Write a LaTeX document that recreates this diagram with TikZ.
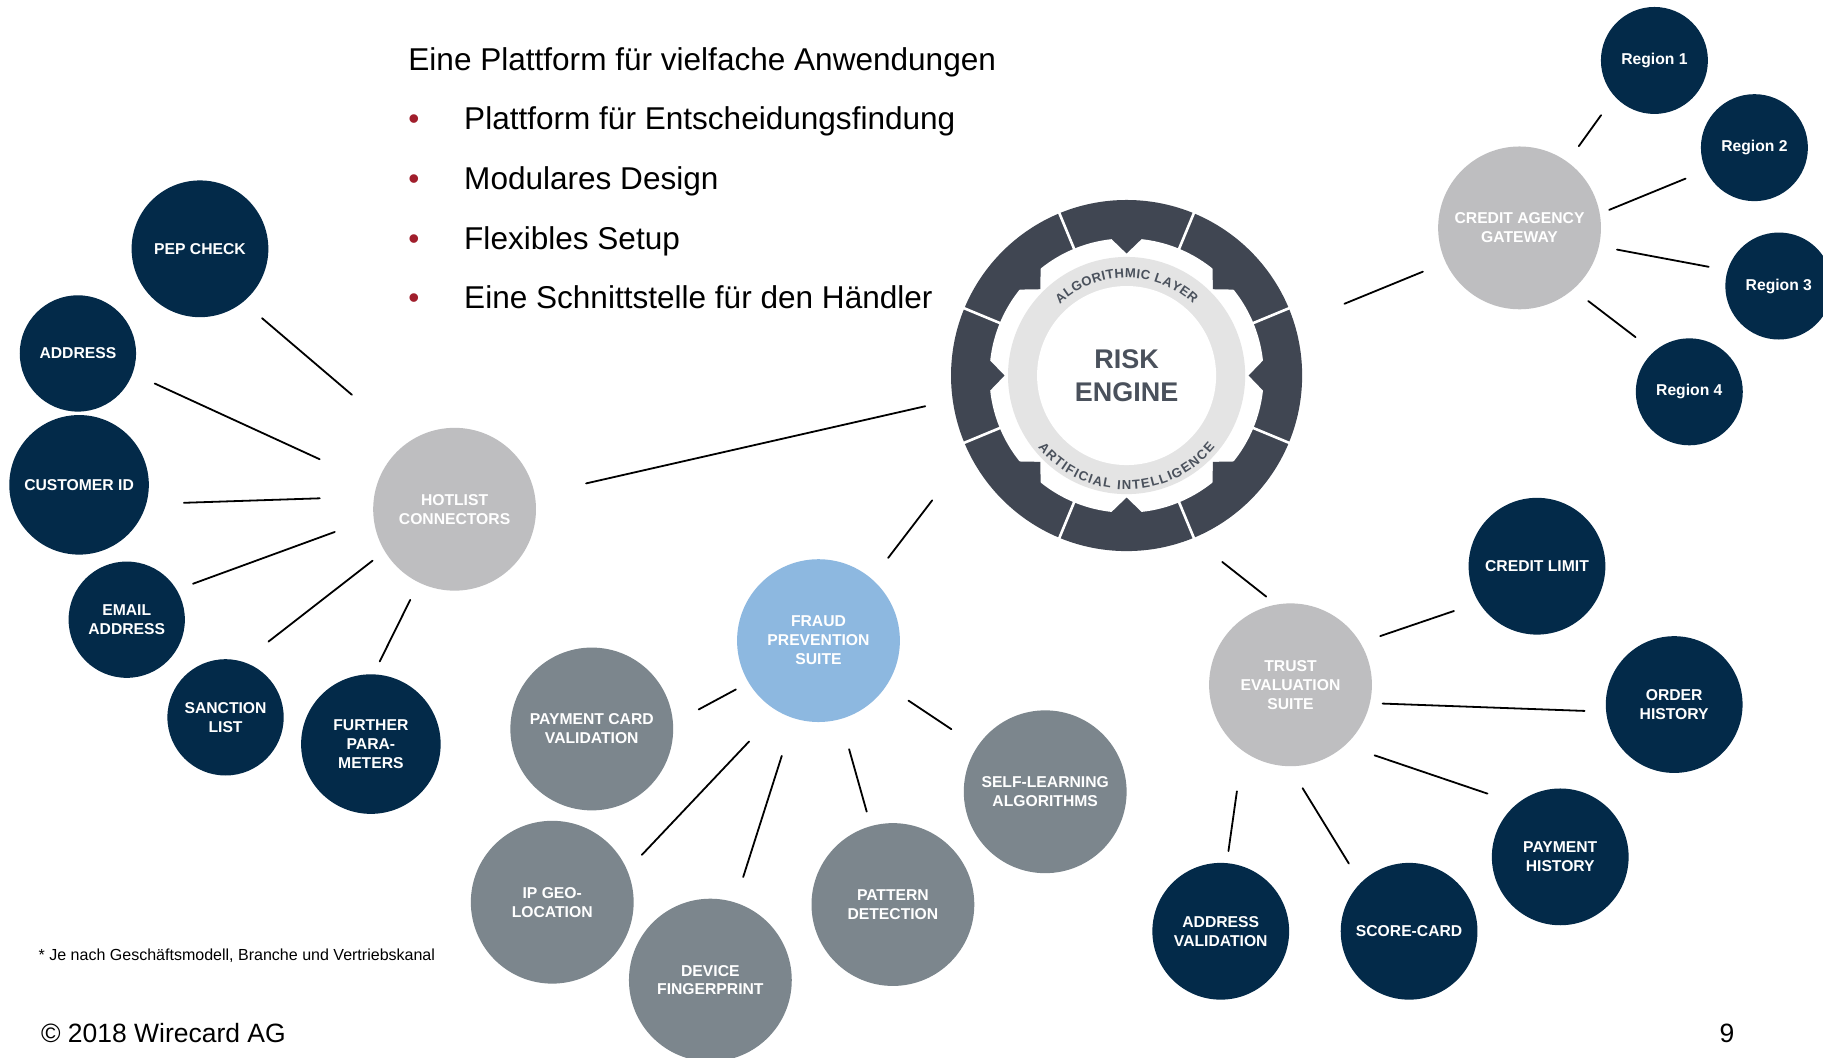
\documentclass[tikz,border=0pt]{standalone}
\usepackage{fontspec}
\setmainfont{Liberation Sans}
\usetikzlibrary{decorations.text}

\definecolor{navy}{HTML}{032A49}
\definecolor{slate}{HTML}{7C868D}
\definecolor{hubgrey}{HTML}{BEBEC0}
\definecolor{fraudblue}{HTML}{8DB8E0}
\definecolor{ringdark}{HTML}{404652}
\definecolor{bandgrey}{HTML}{E4E4E4}
\definecolor{enginetext}{HTML}{4A515C}
\definecolor{bulletred}{HTML}{A01E2C}

\begin{document}
\begin{tikzpicture}[
		x=0.025cm, y=0.025cm,
		line cap=round
	]
	\tikzset{
		navynode/.style = {circle, fill=navy, text=white, align=center, inner sep=0pt, outer sep=0pt,
			font=\fontsize{9.6}{11.6}\selectfont\bfseries},
		greynode/.style = {navynode, fill=slate, minimum size=3.5cm},
		hubnode/.style = {navynode, fill=hubgrey, minimum size=3.5cm},
		fraudnode/.style = {navynode, fill=fraudblue, minimum size=3.5cm},
		smallc/.style = {minimum size=2.5cm},
		midc/.style = {minimum size=2.94cm},
		bigc/.style = {minimum size=3cm},
		regc/.style = {minimum size=2.3cm},
		link/.style = {-, line width=1.1pt, black},
		trim/.style 2 args = {shorten <=#1*0.7113pt, shorten >=#2*0.7113pt},
		bodytext/.style = {anchor=base west, inner sep=0pt, font=\fontsize{19.3}{23}\selectfont},
		ringtext/.style = {decorate, decoration={text along path, text align=fit to path,
			text={|\fontsize{8}{8}\selectfont\bfseries\color{enginetext}|#1}}},
	}
	\useasboundingbox (0,0) rectangle (1568,-910);
	\clip (0,0) rectangle (1568,-910);
	\fill[white] (0,0) rectangle (1568,-910);
	%
	\node[bodytext] (head) at (351,-61) {Eine Plattform für vielfache Anwendungen};
	\node[bodytext] (pt1) at (399,-111) {Plattform für Entscheidungsfindung};
	\node[bodytext] (pt2) at (399,-163) {Modulares Design};
	\node[bodytext] (pt3) at (399,-215) {Flexibles Setup};
	\node[bodytext] (pt4) at (399,-265) {Eine Schnittstelle für den Händler};
	\foreach \n/\y in {1/111,2/163,3/215,4/265}
		\node[bodytext, text=bulletred] (dot\n) at (351,-\y) {•};
	%
	% risk engine
	\begin{scope}[shift={(969,-323)}]
		\fill[ringdark] (0,0) circle[radius=151];
		\fill[white] (0,0) circle[radius=118];
		\foreach \a in {0,45,...,315}
			\fill[ringdark] ({\a-7}:120) -- (\a:105) -- ({\a+7}:120) -- (\a:122) -- cycle;
		\foreach \a in {22.5,67.5,...,337.5}
			\draw[white, line width=1.6pt] (\a:116) -- (\a:153);
		\fill[bandgrey] (0,0) circle[radius=102];
		\fill[white] (0,0) circle[radius=77];
		\path[ringtext={ALGORITHMIC LAYER}] (133:84) arc[start angle=133, end angle=47, radius=84];
		\path[ringtext={ARTIFICIAL INTELLIGENCE}] (219:98) arc[start angle=219, end angle=321, radius=98];
	\end{scope}
	\node[circle, minimum size=7.55cm, inner sep=0pt, outer sep=0pt, align=center, text=enginetext,
		font=\fontsize{16.5}{19.9}\selectfont\bfseries] (risk) at (969,-323) {RISK\\ENGINE};
	%
	% hotlist connectors
	\node[navynode, midc] (pep) at (172,-214) {PEP CHECK};
	\node[navynode, smallc] (addr) at (67,-304) {ADDRESS};
	\node[navynode, bigc] (custid) at (68,-417) {CUSTOMER ID};
	\node[navynode, smallc] (email) at (109,-533) {EMAIL\\ADDRESS};
	\node[navynode, smallc] (sanction) at (194,-617) {SANCTION\\LIST};
	\node[navynode, bigc] (further) at (319,-640) {FURTHER\\PARA-\\METERS};
	\node[hubnode] (hotlist) at (391,-438) {HOTLIST\\CONNECTORS};
	%
	% fraud prevention suite
	\node[fraudnode] (fraud) at (704,-551) {FRAUD\\PREVENTION\\SUITE};
	\node[greynode] (pcv) at (509,-627) {PAYMENT CARD\\VALIDATION};
	\node[greynode] (ipgeo) at (475,-776) {IP GEO-\\LOCATION};
	\node[greynode] (device) at (611,-843) {DEVICE\\FINGERPRINT};
	\node[greynode] (pattern) at (768,-778) {PATTERN\\DETECTION};
	\node[greynode] (selflearn) at (899,-681) {SELF-LEARNING\\ALGORITHMS};
	%
	% trust evaluation suite
	\node[hubnode] (trust) at (1110,-589) {TRUST\\EVALUATION\\SUITE};
	\node[navynode, midc] (climit) at (1322,-487) {CREDIT LIMIT};
	\node[navynode, midc] (order) at (1440,-606) {ORDER\\HISTORY};
	\node[navynode, midc] (payhist) at (1342,-737) {PAYMENT\\HISTORY};
	\node[navynode, midc] (score) at (1212,-801) {SCORE-CARD};
	\node[navynode, midc] (addrval) at (1050,-801) {ADDRESS\\VALIDATION};
	%
	% credit agency gateway
	\node[hubnode] (gateway) at (1307,-196) {CREDIT AGENCY\\GATEWAY};
	\node[navynode, regc] (reg1) at (1423,-52) {Region 1};
	\node[navynode, regc] (reg2) at (1509,-127) {Region 2};
	\node[navynode, regc] (reg3) at (1530,-246) {Region 3};
	\node[navynode, regc] (reg4) at (1453,-337) {Region 4};
	%
	\draw[link, trim={21.5}{63.3}] (pep.-51.4) -- (hotlist.125.8);
	\draw[link, trim={21}{54}] (addr.-20.2) -- (hotlist.163);
	\draw[link, trim={32.5}{46.8}] (custid.-16.6) -- (hotlist.171.3);
	\draw[link, trim={15.1}{35.6}] (email.31.2) -- (hotlist.186.5);
	\draw[link, trim={28.2}{13.3}] (sanction.73) -- (hotlist.211.8);
	\draw[link, trim={12.4}{16.8}] (further.88.7) -- (hotlist.244.3);
	%
	\draw[link, trim={45.3}{24.2}] (hotlist.10.8) -- (risk.188.3);
	\draw[link, trim={23}{51.8}] (fraud.49) -- (risk.206.4);
	\draw[link, trim={11.1}{32.7}] (trust.100.3) -- (risk.292.9);
	\draw[link, trim={21.3}{46.4}] (gateway.205.7) -- (risk.17.9);
	%
	\draw[link, trim={16.8}{20}] (gateway.54.4) -- (reg1.222.4);
	\draw[link, trim={8.8}{18.9}] (gateway.10.5) -- (reg2.205.9);
	\draw[link, trim={15.9}{16.6}] (gateway.-13.8) -- (reg3.163.1);
	\draw[link, trim={16.5}{20.2}] (gateway.-49.9) -- (reg4.131.7);
	%
	\draw[link, trim={12.5}{25.1}] (fraud.211) -- (pcv.4.3);
	\draw[link, trim={23}{27}] (fraud) -- (selflearn);
	\draw[link, trim={35.9}{18.4}] (fraud.240.8) -- (ipgeo.23.3);
	\draw[link, trim={34}{23}] (fraud) -- (device);
	\draw[link, trim={27}{13}] (fraud) -- (pattern);
	%
	\draw[link, trim={18.1}{22.8}] (trust.31.3) -- (climit.212.9);
	\draw[link, trim={11}{18.6}] (trust.-13.7) -- (order.186.4);
	\draw[link, trim={26.9}{27}] (trust.-48.4) -- (payhist.129.6);
	\draw[link, trim={22.2}{19.6}] (trust.269.7) -- (score.135.5);
	\draw[link, trim={35.3}{10.5}] (trust.234.7) -- (addrval.85.7);
	%
	\node[anchor=base west, inner sep=0pt, font=\fontsize{9.8}{12}\selectfont] (note) at (33,-826)
		{* Je nach Geschäftsmodell, Branche und Vertriebskanal};
	\node[anchor=base west, inner sep=0pt, font=\fontsize{16.2}{19}\selectfont] (copy) at (35,-897)
		{© 2018 Wirecard AG};
	\node[anchor=base east, inner sep=0pt, font=\fontsize{16.2}{19}\selectfont] (page) at (1492,-897) {9};
\end{tikzpicture}
\end{document}
